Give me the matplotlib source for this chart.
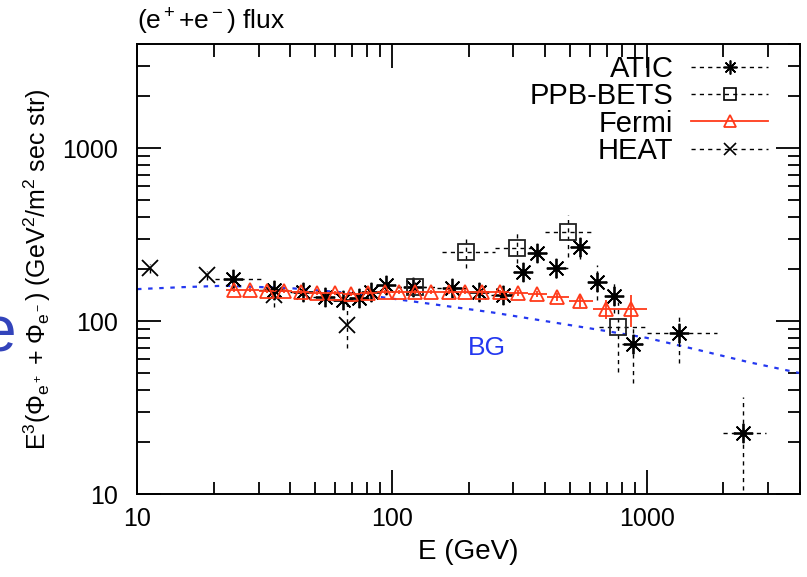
import numpy as np
import matplotlib
matplotlib.use('Agg')
import matplotlib.pyplot as plt
from matplotlib.lines import Line2D

plt.rcParams['font.family'] = ['Liberation Sans', 'DejaVu Sans']
plt.rcParams['mathtext.fontset'] = 'custom'
plt.rcParams['mathtext.rm'] = 'Liberation Sans'
plt.rcParams['mathtext.it'] = 'Liberation Sans'
plt.rcParams['mathtext.default'] = 'regular'

# ATIC
atic_e = [23.8, 34.5, 44.8, 54.6, 64.5, 74.2, 83.2, 94.6, 121, 172, 220, 272, 326, 370, 442, 547, 640, 748, 884, 1336, 2395]
atic_f = [175, 152, 147, 138, 132, 136, 147, 161, 157, 155, 147, 141, 192, 247, 202, 268, 168, 140, 74, 85, 22.5]
atic_elo = [20.2, 30, 40, 49, 58, 68, 77, 87, 105, 150, 195, 245, 300, 345, 405, 500, 590, 700, 800, 1000, 2000]
atic_ehi = [31, 40, 49, 58, 68, 77, 87, 100, 140, 195, 245, 300, 345, 405, 500, 590, 700, 800, 980, 1890, 2950]
atic_flo = [8, 7, 7, 7, 7, 7, 8, 8, 9, 9, 9, 9, 22, 25, 24, 40, 36, 28, 30, 28, 12]
atic_fhi = [8, 7, 7, 7, 7, 7, 8, 8, 9, 9, 9, 9, 20, 25, 24, 40, 42, 32, 18, 27, 14]

# PPB-BETS
bets_e = [123, 195, 309, 490, 770]
bets_f = [157, 250, 264, 327, 92]
bets_elo = [105, 158, 254, 399, 650]
bets_ehi = [150, 254, 363, 626, 1000]
bets_flo = [12, 48, 48, 93, 41]
bets_fhi = [12, 50, 67, 83, 37]

# Fermi
fermi_e = [24, 27.8, 32.4, 37.6, 44, 51, 59.6, 69.3, 81, 94, 107, 123, 143, 167, 193, 225, 265, 312, 373, 445, 550, 690, 870]
fermi_f = [152, 151, 150, 149, 148, 146, 145, 144, 145, 147, 148, 148, 148, 148, 148, 147, 147, 146, 143, 138, 131, 118, 117]
fermi_edges = [22.3, 25.9, 30.0, 34.9, 40.7, 47.4, 55.2, 64.3, 74.9, 87.3, 100.5, 115, 133, 155, 180, 208, 244, 288, 341, 408, 495, 615, 770, 1000]
fermi_ferr = [4, 4, 4, 4, 4, 4, 4, 4, 4, 4, 4, 4, 4, 5, 5, 5, 5, 6, 6, 7, 10, 15, 24]

# HEAT
heat_e = [11.2, 18.8, 34.4, 66.6]
heat_f = [202, 184, 141, 95]
heat_flo = [12, 12, 20, 25]
heat_fhi = [12, 12, 15, 36]

# BG curve
bg_e = [10, 15, 22, 40, 70, 130, 250, 400, 650, 1000, 1600, 2500, 4000]
bg_f = [153, 157, 160, 155, 145, 128, 112, 100, 89, 80, 68, 58, 50]

fig = plt.figure(figsize=(8.07, 5.77), dpi=100)
ax = fig.add_axes([0.1698, 0.1438, 0.8215, 0.78])

dash = (0, (3, 3))

ax.plot(bg_e, bg_f, color='#2438f0', lw=1.6, linestyle=(0, (2, 3)))

# ATIC
e = np.array(atic_e)
xe = [e - np.array(atic_elo), np.array(atic_ehi) - e]
c = ax.errorbar(atic_e, atic_f, xerr=xe, yerr=[atic_flo, atic_fhi], fmt='none',
                ecolor='black', elinewidth=1.0)
c[2][0].set_linestyle(dash)
c[2][1].set_linestyle(dash)
ax.plot(atic_e, atic_f, linestyle='none', marker=(8, 2, 0), ms=14, mew=1.3, color='black')
ax.plot(atic_e, atic_f, linestyle='none', marker='o', ms=3.5, color='black')

# PPB-BETS
e = np.array(bets_e)
xe = [e - np.array(bets_elo), np.array(bets_ehi) - e]
c = ax.errorbar(bets_e, bets_f, xerr=xe, yerr=[bets_flo, bets_fhi], fmt='none',
                ecolor='black', elinewidth=1.0)
c[2][0].set_linestyle(dash)
c[2][1].set_linestyle(dash)
ax.plot(bets_e, bets_f, linestyle='none', marker='s', ms=12, mew=1.3,
        mfc='none', mec='#222222')

# Fermi
e = np.array(fermi_e)
ed = np.array(fermi_edges)
xe = [e - ed[:-1], ed[1:] - e]
ax.errorbar(fermi_e, fermi_f, xerr=xe, yerr=fermi_ferr, fmt='^', ms=10, mew=1.3,
            mfc='none', mec='#ff3a1a', ecolor='#ff3a1a', elinewidth=1.3)

# HEAT
c = ax.errorbar(heat_e, heat_f, yerr=[heat_flo, heat_fhi], fmt='none',
                ecolor='black', elinewidth=1.0)
c[2][0].set_linestyle(dash)
ax.plot(heat_e, heat_f, linestyle='none', marker='x', ms=12, mew=1.3, color='black')

ax.text(237, 70, 'BG', color='#2438f0', fontsize=19, ha='center', va='center')

ax.set_xscale('log')
ax.set_yscale('log')
ax.set_xlim(10, 4000)
ax.set_ylim(10, 4000)
ax.set_xticks([10, 100, 1000])
ax.set_xticklabels(['10', '100', '1000'])
ax.set_yticks([10, 100, 1000])
ax.set_yticklabels(['10', '100', '1000'])
ax.tick_params(which='both', direction='in', top=True, right=True, width=1.3, labelsize=18)
ax.tick_params(which='major', length=17, pad=9)
ax.tick_params(which='minor', length=9)
ax.tick_params(axis='y', which='major', pad=14)
for s in ax.spines.values():
    s.set_linewidth(1.4)

ax.set_xlabel('E (GeV)', fontsize=20, labelpad=6)
ax.set_ylabel(r'E$^3$($\Phi_{e^+}$ + $\Phi_{e^-}$) (GeV$^2$/m$^2$ sec str)', fontsize=18, labelpad=6)
fig.text(0.1698, 0.962, r'(e$^+$+e$^-$) flux', fontsize=19, ha='left', va='center')

fig.text(-0.024, 0.42, 'e', color='#3344bb', fontsize=46, ha='left', va='center')

handles = [
    Line2D([], [], color='black', lw=1.0, linestyle=dash, marker=(8, 2, 0), ms=10, mew=1.2),
    Line2D([], [], color='black', lw=1.0, linestyle=dash, marker='s', ms=9, mfc='none', mew=1.2),
    Line2D([], [], color='#ff3a1a', lw=1.3, marker='^', ms=9, mfc='none', mew=1.3),
    Line2D([], [], color='black', lw=1.0, linestyle=dash, marker='x', ms=9, mew=1.2),
]
ax.legend(handles, ['ATIC', 'PPB-BETS', 'Fermi', 'HEAT'], loc='upper right',
          markerfirst=False, frameon=False, fontsize=21, handlelength=2.65,
          handletextpad=0.6, labelspacing=-0.02, borderpad=0.2, borderaxespad=0,
          bbox_to_anchor=(0.961, 0.989))

fig.savefig('out.png', dpi=100)
